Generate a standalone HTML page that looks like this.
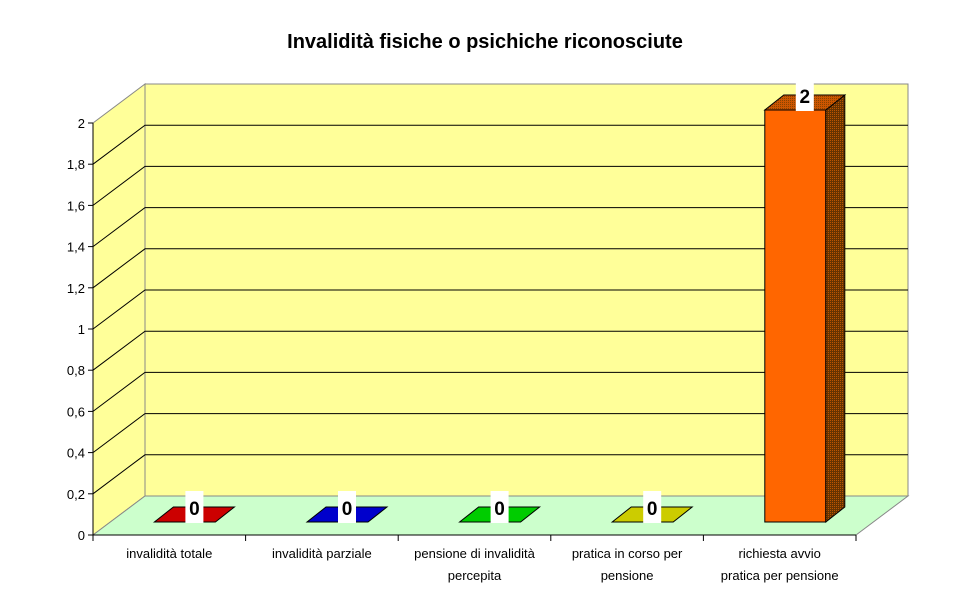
<!DOCTYPE html>
<html><head><meta charset="utf-8"><style>
html,body{margin:0;padding:0;background:#fff;}
svg{display:block;font-family:"Liberation Sans",Arial,sans-serif;}
</style></head><body>
<svg id="chart" width="970" height="604" viewBox="0 0 970 604">
<defs>
<pattern id="dots" width="2" height="2" patternUnits="userSpaceOnUse"><rect width="2" height="2" fill="#663300"/><rect width="1" height="1" fill="#bb5500"/></pattern>
<pattern id="dotsTop" width="2" height="2" patternUnits="userSpaceOnUse"><rect width="2" height="2" fill="#cc5500"/><rect width="1" height="1" fill="#884400"/></pattern>
</defs>
<text x="485" y="48" text-anchor="middle" font-size="20" font-weight="bold">Invalidità fisiche o psichiche riconosciute</text>
<g id="walls"></g><g id="grid"></g><g id="bars"></g><g id="axes"></g>
</svg>
<script>
const categories=[["invalidità totale"],["invalidità parziale"],["pensione di invalidità","percepita"],["pratica in corso per","pensione"],["richiesta avvio","pratica per pensione"]];
const values=[0,0,0,0,2];
const colors=["#cc0000","#0000cc","#00cc00","#cccc00","#ff6600"];
const yTicks=[0,0.2,0.4,0.6,0.8,1,1.2,1.4,1.6,1.8,2];
const yTickLabels=["0","0,2","0,4","0,6","0,8","1","1,2","1,4","1,6","1,8","2"];
const NS="http://www.w3.org/2000/svg";
const X0=93,X1=856,Y0=535,DX=52,DY=39,YMAX=2,PH=412;
const yScale=v=>Y0-v/YMAX*PH;
const cw=(X1-X0)/categories.length;
function el(tag,attrs,parent){const e=document.createElementNS(NS,tag);for(const k in attrs)e.setAttribute(k,attrs[k]);parent.appendChild(e);return e;}
const walls=document.getElementById('walls'),grid=document.getElementById('grid'),bars=document.getElementById('bars'),axes=document.getElementById('axes');
const yTopPx=yScale(YMAX);
let w=el('polygon',{points:`${X0},${Y0} ${X0+DX},${Y0-DY} ${X0+DX},${yTopPx-DY} ${X0},${yTopPx}`,fill:'#ffff99',stroke:'#888'},walls);


w=el('polygon',{points:`${X0+DX},${Y0-DY} ${X1+DX},${Y0-DY} ${X1+DX},${yTopPx-DY} ${X0+DX},${yTopPx-DY}`,fill:'#ffff99',stroke:'#888'},walls);


w=el('polygon',{points:`${X0},${Y0} ${X1},${Y0} ${X1+DX},${Y0-DY} ${X0+DX},${Y0-DY}`,fill:'#ccffcc',stroke:'#888'},walls);


yTicks.forEach((t,i)=>{
  if(t>0&&t<YMAX){const g=el('polyline',{points:`${X0},${yScale(t)} ${X0+DX},${yScale(t)-DY} ${X1+DX},${yScale(t)-DY}`,fill:'none',stroke:'#000','stroke-width':1},grid);
  
  }
  const tk=el('line',{x1:X0-5,y1:yScale(t),x2:X0,y2:yScale(t),stroke:'#000'},axes);
  
  
  const lb=el('text',{x:X0-8,y:yScale(t)+5,'text-anchor':'end','font-size':13},axes);lb.textContent=yTickLabels[i];
  
  
});
const d1=13,d2=28,bw=61;
values.forEach((v,i)=>{
  const cx=X0+cw*(i+0.5);
  const fx0=cx-bw/2+d1*DX/DY*0.9, fx1=fx0+bw;
  const ox=(d2-d1)*DX/DY*0.9+1, oy=d2-d1;
  const by=Y0-d1, ty=by-(Y0-yScale(v));
  const g=el('g',{},bars);
  
  
  if(v>0){
    el('rect',{x:fx0,y:ty,width:bw,height:by-ty,fill:colors[i],stroke:'#000'},g);
    el('polygon',{points:`${fx1},${by} ${fx1+ox},${by-oy} ${fx1+ox},${ty-oy} ${fx1},${ty}`,fill:'url(#dots)',stroke:'#000'},g);
    el('polygon',{points:`${fx0},${ty} ${fx1},${ty} ${fx1+ox},${ty-oy} ${fx0+ox},${ty-oy}`,fill:'url(#dotsTop)',stroke:'#000'},g);
  } else {
    el('polygon',{points:`${fx0},${by} ${fx1},${by} ${fx1+ox},${by-oy} ${fx0+ox},${by-oy}`,fill:colors[i],stroke:'#000'},g);
  }
  const lx=fx0+bw/2+ox/2, ly=ty-oy;
  const bx=el('rect',{x:lx-9,y:v>0?ly-12:ly-16,width:18,height:v>0?28:32,fill:'#fff'},g);
  
  
  const t=el('text',{x:lx,y:ly+8,'text-anchor':'middle','font-size':19,'font-weight':'bold'},g);t.textContent=String(values[i]);
  
  
  categories[i].forEach((ln,j)=>{const c=el('text',{x:cx,y:558+j*22,'text-anchor':'middle','font-size':13},axes);c.textContent=ln;
    
    });
});
let a=el('line',{x1:X0,y1:yTopPx,x2:X0,y2:Y0,stroke:'#000'},axes);


a=el('line',{x1:X0,y1:Y0,x2:X1,y2:Y0,stroke:'#000'},axes);


for(let i=0;i<=categories.length;i++){const t=el('line',{x1:X0+cw*i,y1:Y0,x2:X0+cw*i,y2:Y0+6,stroke:'#000'},axes);
  
  }
</script>
</body></html>
